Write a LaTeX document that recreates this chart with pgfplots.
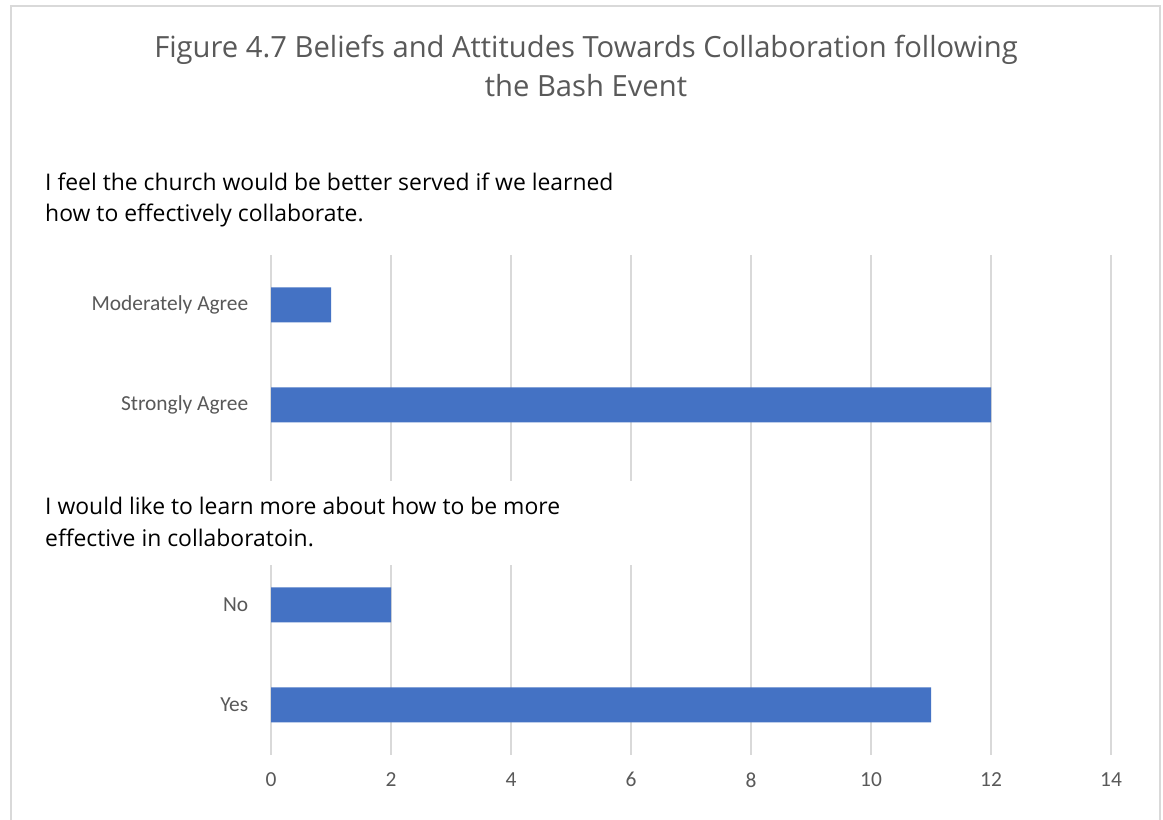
\documentclass[border=0pt]{standalone}
\usepackage{pgfplots}
\pgfplotsset{compat=1.18}
\usepackage{fontspec}
\setmainfont{Carlito}
\newfontfamily\segoe{Open Sans}
\definecolor{barblue}{HTML}{4472C4}
\definecolor{gridgray}{HTML}{D9D9D9}
\definecolor{txtgray}{HTML}{595959}
\begin{document}
\begin{tikzpicture}[x=1bp,y=1bp]
\useasboundingbox (0,0) rectangle (1163,820);
\fill[white] (0,0) rectangle (1163,820);
\begin{axis}[
  at={(271bp,65bp)}, anchor=south west,
  scale only axis, width=840bp, height=500bp,
  xmin=0, xmax=14, ymin=-0.5, ymax=4.5,
  xtick={0,2,...,14},
  ytick={0,1,3,4},
  yticklabels={Yes,No,Strongly Agree,Moderately Agree},
  axis line style={draw=none},
  major tick style={draw=none},
  xmajorgrids, ymajorgrids=false,
  major grid style={draw=gridgray, line width=1.5bp},
  /pgf/number format/assume math mode=true,
  ticklabel style={font=\fontsize{21.5}{24}\selectfont, text=txtgray},
  yticklabel style={xshift=-15bp},
  xticklabel style={yshift=-14bp},
  xbar, bar width=0.35,
]
\addplot[fill=barblue, draw=none] coordinates {(11,0) (2,1) (12,3) (1,4)};
\end{axis}
% white box covering gridlines behind second annotation
\fill[white] (20,820-481) rectangle (690,820-565);
% frame
\draw[gridgray, line width=2bp] (11,-5) -- (11,820-6) -- (1160,820-6) -- (1160,-5);
% title
\node[text=txtgray, align=center, font=\segoe\fontsize{29.3}{39}\selectfont] at (586,820-66) {Figure 4.7 Beliefs and Attitudes Towards Collaboration following\\the Bash Event};
% annotations
\node[anchor=west, align=left, font=\segoe\fontsize{23}{32}\selectfont, text=black, inner sep=0] at (45,820-200) {I feel the church would be better served if we learned\\how to effectively collaborate.};
\node[anchor=west, align=left, font=\segoe\fontsize{23}{32}\selectfont, text=black, inner sep=0] at (45,820-522) {I would like to learn more about how to be more\\effective in collaboratoin.};
\end{tikzpicture}
\end{document}
